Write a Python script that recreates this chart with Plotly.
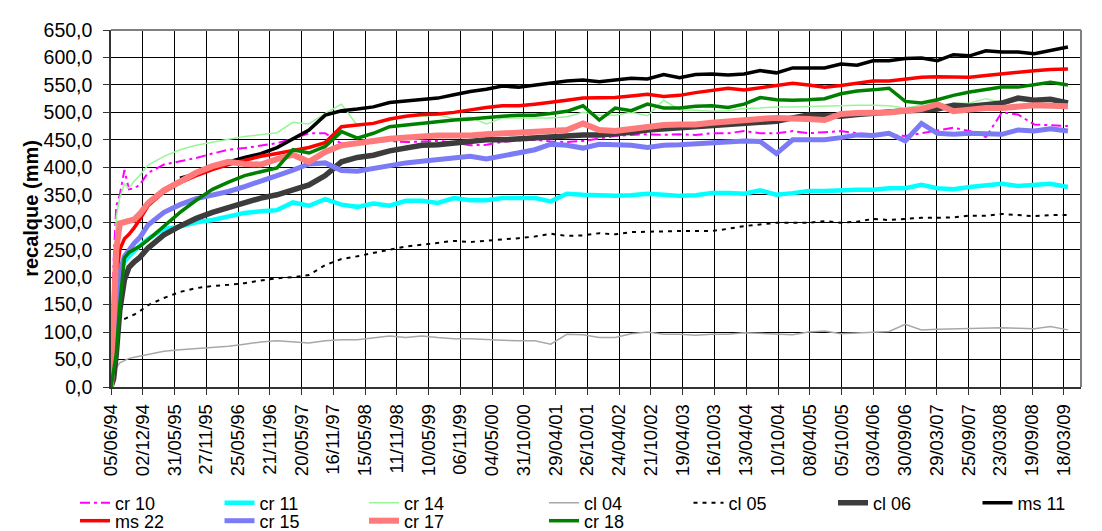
import pandas as pd
import plotly.graph_objects as go

dates = [
    "1994-06-05", "1994-06-20", "1994-07-05", "1994-07-25", "1994-08-20", "1994-09-15", "1994-10-15", "1994-11-15",
    "1995-01-01", "1995-04-01", "1995-07-01", "1995-10-01",
    "1996-01-01", "1996-04-01", "1996-07-01", "1996-10-01",
    "1997-01-01", "1997-04-01", "1997-07-01", "1997-10-01",
    "1998-01-01", "1998-04-01", "1998-07-01", "1998-10-01",
    "1999-01-01", "1999-04-01", "1999-07-01", "1999-10-01",
    "2000-01-01", "2000-04-01", "2000-07-01", "2000-10-01",
    "2001-01-01", "2001-04-01", "2001-07-01", "2001-10-01",
    "2002-01-01", "2002-04-01", "2002-07-01", "2002-10-01",
    "2003-01-01", "2003-04-01", "2003-07-01", "2003-10-01",
    "2004-01-01", "2004-04-01", "2004-07-01", "2004-10-01",
    "2005-01-01", "2005-04-01", "2005-07-01", "2005-10-01",
    "2006-01-01", "2006-04-01", "2006-07-01", "2006-10-01",
    "2007-01-01", "2007-04-01", "2007-07-01", "2007-10-01",
    "2008-01-01", "2008-04-01", "2008-07-01", "2008-10-01",
    "2009-01-01", "2009-04-10",
]

cr10 = [0, 230, 330, 350, 395, 360, 362, 368, 390, 405, 411, 417, 425, 432, 435, 440,
        444, 452, 462, 462, 443, 445, 447, 448, 446, 447, 448, 445, 440, 441, 446, 449,
        450, 447, 446, 448, 452, 457, 459, 460, 459, 460, 459, 462, 462, 466, 462, 462,
        466, 462, 464, 466, 462, 461, 459, 457, 462, 466, 472, 466, 455, 500, 496, 478,
        477, 475]
cr11 = [0, 90, 160, 205, 228, 238, 248, 257, 270, 288, 292, 300, 304, 310, 317, 320,
        322, 336, 330, 342, 332, 328, 334, 330, 339, 339, 335, 344, 340, 340, 344, 344,
        344, 338, 352, 350, 348, 348, 349, 352, 350, 348, 349, 353, 353, 352, 358, 350,
        353, 357, 357, 359, 359, 359, 362, 362, 368, 362, 360, 364, 366, 370, 366, 368,
        370, 364]
cr14 = [0, 180, 310, 345, 370, 362, 375, 385, 404, 420, 432, 440, 446, 451, 456, 460,
        463, 482, 479, 498, 515, 476, 480, 485, 493, 493, 495, 489, 491, 479, 490, 490,
        490, 490, 492, 500, 495, 495, 500, 494, 522, 505, 504, 502, 503, 507, 508, 510,
        510, 511, 511, 513, 513, 513, 512, 508, 513, 513, 516, 517, 525, 518, 521, 523,
        523, 517]
cl04 = [0, 20, 35, 44, 48, 52, 54, 56, 60, 65, 68, 70, 72, 74, 78, 82,
        84, 82, 80, 84, 86, 86, 89, 93, 90, 93, 90, 88, 88, 86, 85, 84,
        84, 78, 96, 95, 90, 90, 97, 100, 96, 96, 94, 96, 96, 99, 98, 96,
        95, 100, 102, 97, 98, 100, 101, 114, 104, 105, 106, 107, 108, 108, 107, 106,
        110, 104]
cl05 = [0, 60, 110, 120, 124, 127, 132, 138, 149, 162, 173, 180, 184, 186, 189, 194,
        198, 200, 204, 222, 233, 238, 244, 250, 256, 259, 263, 266, 264, 266, 268, 271,
        274, 279, 275, 276, 280, 278, 282, 283, 283, 284, 284, 284, 288, 293, 296, 299,
        299, 299, 302, 299, 301, 306, 304, 306, 308, 308, 309, 312, 312, 315, 313, 311,
        313, 313]
cl06 = [0, 15, 60, 140, 195, 218, 228, 236, 253, 277, 293, 307, 318, 327, 336, 344,
        350, 358, 368, 385, 410, 418, 422, 430, 436, 440, 441, 444, 447, 450, 450, 452,
        452, 454, 457, 459, 459, 461, 464, 468, 470, 474, 476, 478, 480, 481, 483, 484,
        490, 495, 494, 493, 496, 499, 501, 503, 504, 506, 513, 511, 514, 517, 526, 522,
        524, 517]
ms11 = [None, None, None, None, None, None, None, None, None, None, 380, 388,
        400, 410, 418, 425, 436, 452, 468, 495, 503, 506, 510, 518, 521, 524, 526, 532,
        538, 542, 548, 546, 550, 553, 557, 559, 556, 559, 562, 561, 569, 563, 569, 570,
        568, 570, 576, 572, 581, 581, 581, 588, 586, 594, 594, 598, 599, 594, 605, 603,
        612, 610, 610, 607, 612, 619]
ms22 = [0, 100, 200, 250, 270, 278, 290, 305, 330, 355, 372, 385, 396, 405, 413, 420,
        425, 430, 436, 445, 474, 477, 480, 488, 493, 496, 497, 500, 505, 509, 512, 512,
        515, 518, 522, 526, 526, 527, 530, 533, 529, 531, 536, 540, 544, 541, 545, 550,
        553, 550, 546, 549, 553, 557, 557, 561, 564, 565, 565, 564, 567, 570, 574, 576,
        578, 579]
cr15 = [0, 60, 150, 210, 238, 250, 262, 272, 295, 318, 332, 343, 349, 356, 365, 376,
        385, 395, 406, 408, 394, 393, 398, 405, 408, 411, 414, 418, 420, 415, 421, 426,
        432, 442, 440, 435, 442, 441, 440, 436, 440, 441, 443, 445, 447, 448, 447, 425,
        450, 450, 450, 454, 459, 458, 462, 448, 480, 462, 460, 462, 462, 460, 468, 466,
        470, 466]
cr17 = [0, 150, 250, 298, 300, 300, 305, 315, 335, 358, 375, 390, 402, 410, 406, 405,
        415, 423, 410, 428, 440, 443, 448, 452, 455, 456, 458, 457, 458, 460, 462, 464,
        466, 466, 468, 480, 468, 466, 470, 472, 477, 478, 478, 481, 484, 486, 488, 490,
        490, 488, 486, 497, 499, 499, 500, 503, 506, 515, 502, 505, 508, 508, 511, 513,
        512, 511]
cr18 = [0, 30, 60, 150, 235, 245, 250, 256, 268, 292, 318, 340, 360, 373, 385, 392,
        399, 432, 426, 438, 465, 453, 462, 474, 477, 480, 484, 486, 488, 491, 493, 495,
        495, 498, 502, 512, 486, 508, 503, 515, 508, 508, 511, 512, 509, 515, 527, 523,
        522, 523, 525, 534, 539, 541, 544, 520, 517, 523, 531, 537, 541, 546, 546, 551,
        555, 550]

tick_labels = ["05/06/94", "02/12/94", "31/05/95", "27/11/95", "25/05/96", "21/11/96",
               "20/05/97", "16/11/97", "15/05/98", "11/11/98", "10/05/99", "06/11/99",
               "04/05/00", "31/10/00", "29/04/01", "26/10/01", "24/04/02", "21/10/02",
               "19/04/03", "16/10/03", "13/04/04", "10/10/04", "08/04/05", "05/10/05",
               "03/04/06", "30/09/06", "29/03/07", "25/09/07", "23/03/08", "19/09/08",
               "18/03/09"]
tick_dates = pd.to_datetime(tick_labels, format="%d/%m/%y")

x = pd.to_datetime(dates)

FONT = "Liberation Sans, Arial, sans-serif"

# name, values, line style, legend row, legend entry width
series = [
    ("cr 10", cr10, dict(color="#FF00FF", width=2, dash="10px,4px,3px,4px"), "legend", None),
    ("cr 11", cr11, dict(color="#00FFFF", width=4.5), "legend", None),
    ("cr 14", cr14, dict(color="#99F599", width=1.5), "legend", 135),
    ("cl 04", cl04, dict(color="#A8A8A8", width=1.5), "legend", None),
    ("cl 05", cl05, dict(color="#000000", width=2, dash="4px,5px"), "legend", None),
    ("cl 06", cl06, dict(color="#3C3C3C", width=5.5), "legend", None),
    ("ms 11", ms11, dict(color="#000000", width=3.5), "legend", None),
    ("ms 22", ms22, dict(color="#FF0000", width=3.5), "legend2", None),
    ("cr 15", cr15, dict(color="#7B7BF5", width=5), "legend2", None),
    ("cr 17", cr17, dict(color="#FF7A7A", width=6), "legend2", 135),
    ("cr 18", cr18, dict(color="#008000", width=3.5), "legend2", None),
]

fig = go.Figure()
for name, vals, line, leg, lw in series:
    kw = {}
    if lw:
        kw["legendwidth"] = lw
    fig.add_trace(go.Scatter(x=x, y=vals, name=name, mode="lines", line=line,
                             legend=leg, connectgaps=False, **kw))

PL, PR, PT, PB = 103, 1073, 22, 379
W, H = 1102, 531
pw, ph = PR - PL, PB - PT


def px_x(p):
    return (p - PL) / pw


def px_y(p):
    return (PB - p) / ph


legend_common = dict(orientation="h", xanchor="left", yanchor="middle",
                     entrywidth=99.5, entrywidthmode="pixels",
                     font=dict(family=FONT, size=18, color="black"),
                     bgcolor="rgba(0,0,0,0)", borderwidth=0)

fig.update_layout(
    width=W, height=H,
    margin=dict(l=PL, r=W - PR, t=PT, b=H - PB, autoexpand=False),
    paper_bgcolor="white", plot_bgcolor="white",
    separators=",.",
    font=dict(family=FONT, size=18, color="black"),
    showlegend=True,
    legend=dict(x=px_x(67), y=px_y(495), **legend_common),
    legend2=dict(x=px_x(67), y=px_y(513), **legend_common),
    xaxis=dict(type="date", range=["1994-06-05", "2009-06-23"],
               tickmode="array", tickvals=tick_dates, ticktext=tick_labels,
               tickangle=-90, tickfont=dict(family=FONT, size=18.5, color="black"),
               ticklabelstandoff=2,
               showgrid=True, gridcolor="black", gridwidth=1,
               showline=True, linecolor="#333333", linewidth=1.5,
               ticks="outside", ticklen=6, tickcolor="#333333", zeroline=False),
    yaxis=dict(range=[0, 650], dtick=50, tick0=0, tickformat=".1f",
               tickfont=dict(family=FONT, size=19.5, color="black"),
               ticklabelstandoff=7,
               showgrid=True, gridcolor="black", gridwidth=1,
               showline=True, linecolor="#333333", linewidth=1.5,
               ticks="outside", ticklen=6, tickcolor="#333333", zeroline=False,
               title=dict(text="<b>recalque (mm)</b>",
                          font=dict(family=FONT, size=20, color="black"),
                          standoff=0)),
    shapes=[
        dict(type="line", xref="paper", yref="paper", x0=0, x1=1, y0=1, y1=1,
             line=dict(color="#808080", width=2), layer="above"),
        dict(type="line", xref="paper", yref="paper", x0=1, x1=1, y0=0, y1=1,
             line=dict(color="#808080", width=2), layer="above"),
    ],
)

fig.write_html("out.html")
